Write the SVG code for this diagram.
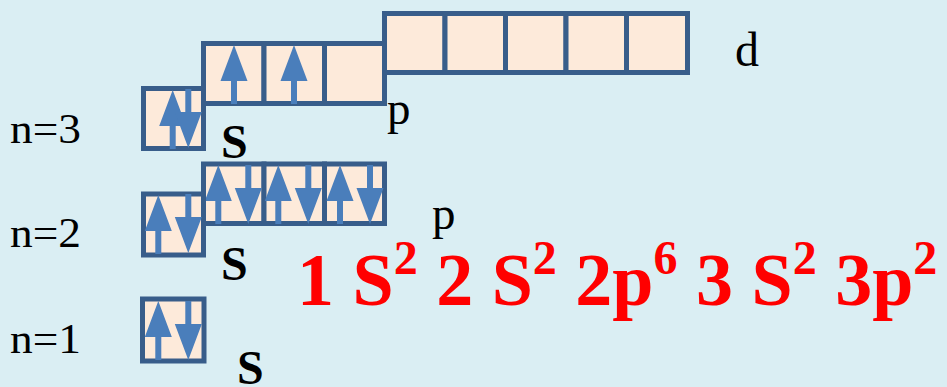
<svg xmlns="http://www.w3.org/2000/svg" width="947" height="387" viewBox="0 0 947 387">
<style>
.bg{fill:#DAEEF3}
.box{fill:#FDEADA;stroke:#385D8A;stroke-width:5}
.arr{fill:#4A7EBB}
.lbl{font-family:"Liberation Serif","Times New Roman",serif;fill:#000}
.sub{font-family:"Liberation Serif","Times New Roman",serif;font-weight:bold;fill:#000;font-size:48px}
.red{font-family:"Liberation Serif","Times New Roman",serif;font-weight:bold;fill:#FF0000;font-size:74px}
</style>
<defs>
<path id="up" d="M0,0 L13.5,36 L3,36 L3,59 L-3,59 L-3,36 L-13.5,36 Z"/>
</defs>
<rect class="bg" x="0" y="0" width="947" height="387"/>

<g id="orb-3d">
<rect class="box" x="384.5" y="13.5" width="60.5" height="59"/>
<rect class="box" x="445" y="13.5" width="60.5" height="59"/>
<rect class="box" x="505.5" y="13.5" width="60.5" height="59"/>
<rect class="box" x="566" y="13.5" width="60.5" height="59"/>
<rect class="box" x="626.5" y="13.5" width="61" height="59"/>
</g>

<g id="orb-3p">
<rect class="box" x="203.5" y="43.5" width="60.5" height="60"/>
<rect class="box" x="264" y="43.5" width="60.5" height="60"/>
<rect class="box" x="324.5" y="43.5" width="60" height="60"/>
<use href="#up" class="arr" x="234" y="45"/>
<use href="#up" class="arr" x="294" y="45"/>
</g>

<g id="orb-3s">
<rect class="box" x="143.5" y="88.5" width="60" height="60"/>
<use href="#up" class="arr" x="172.7" y="90"/>
<use href="#up" class="arr" transform="translate(188.3,148) rotate(180)"/>
</g>

<g id="orb-2p">
<rect class="box" x="203.5" y="164" width="60.5" height="59.5"/>
<rect class="box" x="264" y="164" width="60.5" height="59.5"/>
<rect class="box" x="324.5" y="164" width="60" height="59.5"/>
<use href="#up" class="arr" x="218.3" y="165"/>
<use href="#up" class="arr" transform="translate(248.3,224) rotate(180)"/>
<use href="#up" class="arr" x="278.3" y="165"/>
<use href="#up" class="arr" transform="translate(308.3,224) rotate(180)"/>
<use href="#up" class="arr" x="340" y="165"/>
<use href="#up" class="arr" transform="translate(370,224) rotate(180)"/>
</g>

<g id="orb-2s">
<rect class="box" x="143.5" y="194" width="60" height="61"/>
<use href="#up" class="arr" x="158.3" y="195"/>
<use href="#up" class="arr" transform="translate(188.3,253) rotate(180)"/>
</g>

<g id="orb-1s">
<rect class="box" x="142.5" y="299" width="61.5" height="62"/>
<use href="#up" class="arr" x="158.3" y="301"/>
<use href="#up" class="arr" transform="translate(188.3,360) rotate(180)"/>
</g>

<g id="labels">
<text class="lbl" x="10" y="143" font-size="43" textLength="71" lengthAdjust="spacingAndGlyphs">n=3</text>
<text class="lbl" x="10" y="247" font-size="43" textLength="71" lengthAdjust="spacingAndGlyphs">n=2</text>
<text class="lbl" x="10" y="353" font-size="43" textLength="71" lengthAdjust="spacingAndGlyphs">n=1</text>
<text class="sub" x="221" y="158">S</text>
<text class="sub" x="221" y="280">S</text>
<text class="sub" x="237" y="384">S</text>
<text class="lbl" x="387" y="124" font-size="47">p</text>
<text class="lbl" x="432" y="229" font-size="47">p</text>
<text class="lbl" x="735" y="66" font-size="48">d</text>
</g>

<g id="formula">
<text class="red" x="297" y="305">1 S<tspan font-size="48" dy="-31">2</tspan><tspan dy="31"> 2 S</tspan><tspan font-size="48" dy="-31">2</tspan><tspan dy="31"> 2p</tspan><tspan font-size="48" dy="-31">6</tspan><tspan dy="31"> 3 S</tspan><tspan font-size="48" dy="-31">2</tspan><tspan dy="31"> 3p</tspan><tspan font-size="48" dy="-31">2</tspan></text>
</g>
</svg>
